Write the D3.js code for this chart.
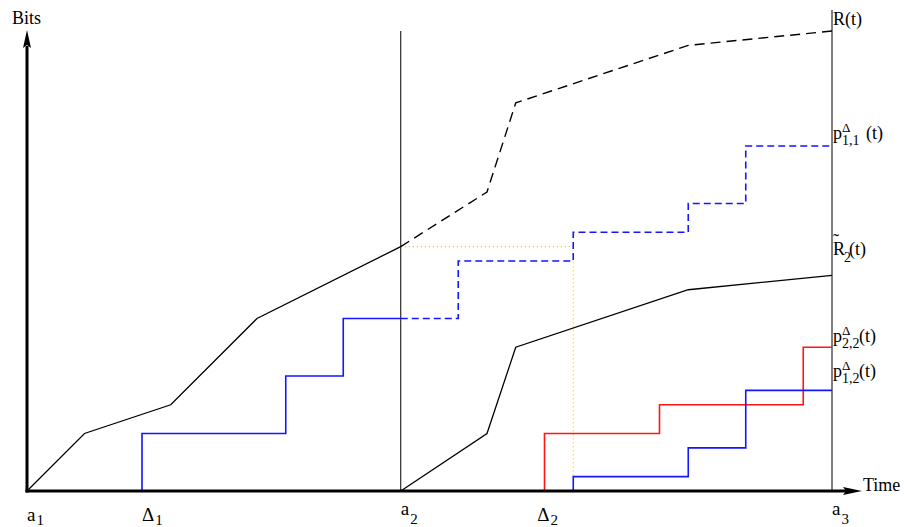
<!DOCTYPE html>
<html lang="en">
<head>
  <meta charset="UTF-8">
  <title>Arrival curves</title>
  <script src="https://d3js.org/d3.v7.min.js"></script>
  <style>
    body {
      margin: 0;
      background: #fff;
    }

    svg text {
      font-family: "Liberation Serif", "DejaVu Serif", serif;
      font-size: 18px;
      fill: #000;
    }
  </style>
</head>
<body>
  <div id="chart"></div>

  <script>
    // R(t): part already seen up to a2, then the part still to come
    const rSeen   = [[0, 0], [2, 2], [5, 3], [8, 6], [13, 8.5]];
    const rFuture = [[13, 8.5], [16, 10.4], [17, 13.5], [23, 15.5], [28, 16]];

    // R~2(t), restarting at a2
    const r2 = [[13, 0], [16, 2], [17, 5], [23, 7], [28, 7.5]];

    // step outputs [t, bits], drawn step-after
    const p11Seen   = [[4, 0], [4, 2], [9, 4], [11, 6], [13, 6]];
    const p11Future = [[13, 6], [15, 8], [19, 9], [23, 10], [25, 12], [28, 12]];
    const p22       = [[18, 0], [18, 2], [22, 3], [27, 5], [28, 5]];
    const p12       = [[19, 0], [19, 0.5], [23, 1.5], [25, 3.5], [28, 3.5]];

    // dotted guide from R(a2) across to Delta2
    const guide = [[13, 8.5], [19, 8.5], [19, 0.5]];

    // time marks on the axis
    const timeMarks  = [0, 4, 13, 17.75, 28];
    const markMain   = ["a", "\u0394", "a", "\u0394", "a"];
    const markSub    = ["1", "1", "2", "2", "3"];

    const width = 904, height = 527;

    const svg = d3.select("#chart")
      .append("svg")
      .attr("width", width)
      .attr("height", height);

    const x = d3.scaleLinear().domain([0, 28]).range([27, 832]);
    const y = d3.scaleLinear().domain([0, 16]).range([491, 31]);

    const line = d3.line()
      .x(d => x(d[0]))
      .y(d => y(d[1]));

    const step = d3.line()
      .x(d => x(d[0]))
      .y(d => y(d[1]))
      .curve(d3.curveStepAfter);

    // vertical markers at a2 and a3
    svg.append("line")
      .attr("x1", x(13)).attr("x2", x(13))
      .attr("y1", y(16)).attr("y2", y(0))
      .attr("stroke", "#000").attr("stroke-width", 1);

    svg.append("line")
      .attr("x1", x(28)).attr("x2", x(28))
      .attr("y1", y(16.73)).attr("y2", y(0))
      .attr("stroke", "#000").attr("stroke-width", 1);

    // guide lines
    svg.append("path")
      .datum(guide)
      .attr("fill", "none")
      .attr("stroke", "#f7c21a")
      .attr("stroke-width", 1.2)
      .attr("stroke-dasharray", "1.2,2.8")
      .attr("d", line);

    // R curves
    svg.append("path")
      .datum(rSeen)
      .attr("fill", "none")
      .attr("stroke", "#000")
      .attr("stroke-width", 1.3)
      .attr("d", line);

    svg.append("path")
      .datum(rFuture)
      .attr("fill", "none")
      .attr("stroke", "#000")
      .attr("stroke-width", 1.4)
      .attr("stroke-dasharray", "10,6")
      .attr("d", line);

    svg.append("path")
      .datum(r2)
      .attr("fill", "none")
      .attr("stroke", "#000")
      .attr("stroke-width", 1.3)
      .attr("d", line);

    // step outputs
    svg.append("path")
      .datum(p11Seen)
      .attr("fill", "none")
      .attr("stroke", "#1515ff")
      .attr("stroke-width", 1.6)
      .attr("d", step);

    svg.append("path")
      .datum(p11Future)
      .attr("fill", "none")
      .attr("stroke", "#1515ff")
      .attr("stroke-width", 1.6)
      .attr("stroke-dasharray", "7,4")
      .attr("d", step);

    svg.append("path")
      .datum(p22)
      .attr("fill", "none")
      .attr("stroke", "#ff1515")
      .attr("stroke-width", 1.6)
      .attr("d", step);

    svg.append("path")
      .datum(p12)
      .attr("fill", "none")
      .attr("stroke", "#1515ff")
      .attr("stroke-width", 1.6)
      .attr("d", step);

    // axes with arrow heads
    svg.append("line")
      .attr("x1", x(0)).attr("x2", x(0))
      .attr("y1", y(0) + 1.5).attr("y2", 46)
      .attr("stroke", "#000").attr("stroke-width", 3);

    svg.append("path")
      .attr("d", `M${x(0)},30 L${x(0) - 4},48 L${x(0)},45 L${x(0) + 4},48 Z`)
      .attr("fill", "#000");

    svg.append("line")
      .attr("x1", x(0) - 1.5).attr("x2", 846)
      .attr("y1", y(0)).attr("y2", y(0))
      .attr("stroke", "#000").attr("stroke-width", 3);

    svg.append("path")
      .attr("d", `M862,${y(0)} L843,${y(0) - 4} L846,${y(0)} L843,${y(0) + 4} Z`)
      .attr("fill", "#000");

    svg.append("text")
      .attr("x", 12)
      .attr("y", 24)
      .text("Bits");

    svg.append("text")
      .attr("x", 863)
      .attr("y", 491)
      .text("Time");

    // time marks under the axis
    const markBase = [521, 521, 515, 521, 515];
    timeMarks.forEach((t, i) => {
      const tx = svg.append("text")
        .attr("x", x(t))
        .attr("y", markBase[i])
        .style("font-size", "19px");
      tx.append("tspan").text(markMain[i]);
      tx.append("tspan")
        .attr("dx", 1)
        .attr("y", Math.min(markBase[i] + 9, 525))
        .style("font-size", "15px")
        .text(markSub[i]);
    });

    // curve labels on the right
    const lx = x(28) + 1;

    svg.append("text")
      .attr("x", lx)
      .attr("y", y(16) - 6)
      .text("R(t)");

    function pLabel(base, sub, gap) {
      const t = svg.append("text").attr("y", base);
      t.append("tspan").attr("x", lx).text("p");
      t.append("tspan")
        .attr("x", lx + 9).attr("y", base - 7)
        .style("font-size", "13px")
        .text("\u0394");
      t.append("tspan")
        .attr("x", lx + 9).attr("y", base + 6)
        .style("font-size", "14px")
        .text(sub);
      t.append("tspan")
        .attr("x", lx + 26 + gap).attr("y", base)
        .text("(t)");
    }

    pLabel(y(12) - 7, "1,1", 7);
    pLabel(y(5) - 5, "2,2", 0);
    pLabel(y(3.5) - 13, "1,2", 0);

    // R~2(t)
    svg.append("text")
      .attr("x", lx)
      .attr("y", y(7.5) - 28)
      .style("font-size", "18px")
      .text("\u02DC");

    const r2Label = svg.append("text").attr("y", y(7.5) - 20);
    r2Label.append("tspan").attr("x", lx).text("R");
    r2Label.append("tspan")
      .attr("x", lx + 11).attr("dy", 7)
      .style("font-size", "14px")
      .text("2");
    r2Label.append("tspan")
      .attr("x", lx + 16).attr("dy", -7)
      .text("(t)");
  </script>
</body>
</html>
